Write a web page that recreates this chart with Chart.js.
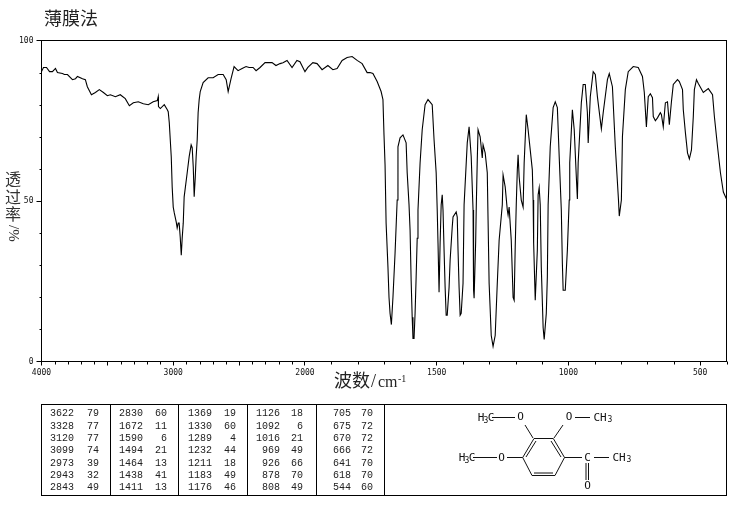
<!DOCTYPE html>
<html>
<head>
<meta charset="utf-8">
<style>
html,body{margin:0;padding:0;background:#fff;}
canvas{display:block;}
</style>
<script src="https://cdn.jsdelivr.net/npm/chart.js@4"></script>
</head>
<body>
<canvas id="irChart" width="737" height="510"></canvas>
<script>
// spectrum
var wavenumbers = [
4000,3985,3962,3939,3917,3894,3879,3841,3826,3803,3765,3742,3727,3689,3667,3652,3621,3591,3561,3530,
3500,3477,3439,3402,3364,3333,3303,3265,3227,3189,3152,3121,3114,3112,3098,3068,3045,3038,3030,3015,
3008,3000,2992,2977,2970,2962,2955,2947,2939,2932,2924,2917,2894,2879,2864,2856,2848,2841,2833,2826,
2818,2811,2803,2795,2773,2735,2697,2659,2621,2598,2583,2561,2538,2508,2477,2447,2424,2394,2371,2341,
2303,2250,2220,2189,2167,2136,2098,2061,2038,2000,
1989,1970,1954,1935,1913,1894,1878,1859,1840,1821,1802,1783,1764,1753,1742,1726,1711,1704,
1700,1696,1692,1685,1681,1677,1672,1666,1658,1650,1647,1639,1628,1616,1612,1605,1601,1597,1593,1590,
1586,1582,1578,1574,1571,1563,1555,1544,1533,1517,1510,1502,1498,1495,1491,1487,1483,1479,1476,1472,
1468,1464,1460,1453,1449,1441,1438,1426,1422,1419,1415,1411,1407,1400,1396,1384,1377,1369,1362,1360,
1358,1352,1350,1346,1343,1335,1327,1324,1316,1308,1305,1301,1293,1286,1278,1270,1263,1251,1248,1240,
1232,1229,1225,1217,1210,1206,1202,1198,1194,1191,1187,1179,1172,1168,1160,1153,1137,1134,1132,1126,
1118,1115,1111,1107,1103,1096,1092,1084,1080,1077,1069,1058,1050,1042,1035,1027,1023,1020,1012,1004,
997,995,985,978,970,966,963,951,944,936,928,925,917,906,898,890,875,868,852,845,
833,822,810,807,799,795,784,773,754,735,719,712,704,697,689,681,678,670,662,651,
647,640,632,624,617,609,602,586,579,567,564,556,548,541,533,526,522,514,507,488,
469,453,446,434,423,412,400
];
var transmittance = [
90.3,91.6,91.6,90.3,90.3,91.3,90,89.7,89.4,89.4,87.8,88.1,88.8,88.1,87.8,85.6,83.1,83.8,84.7,83.8,
82.8,83.1,82.5,83.1,81.9,79.7,80.6,80.9,80.3,80,80.9,81.3,82.5,79.4,78.8,80,78.4,77.8,74.4,63.8,
54.4,48.1,46.3,43.4,41.6,43.1,43.1,38.8,33.1,38.4,43.1,51.3,58.8,63.8,67.5,66.6,60.6,51.3,57.2,63.8,
69.1,77.5,81.6,84.1,86.9,88.4,88.4,89.4,89.4,87.8,84.1,88.1,91.9,90.6,91.3,91.9,91.6,91.6,90.6,91.6,
93.1,93.1,92.2,92.8,93.1,93.8,91.6,93.8,93.4,90.3,
91.6,93.1,92.8,90.9,92.2,90.9,91.3,93.8,94.7,95,93.8,92.8,90,90,89.7,87.2,84.1,81.6,
70.6,61.3,43.1,29.4,20,15,11.5,20,33.8,50.3,66.9,69.7,70.6,68.1,58.8,48.8,40.9,25.3,13.8,7.2,
7.2,15,26.3,38.4,47.2,61.9,72.2,80,81.6,80,69.1,58.8,47.2,36.9,21.6,36.9,48.8,51.9,47.2,34.7,
23.1,14.4,14.4,23.1,31.6,41.9,45,46.6,45,34.7,23.1,14.4,15,24.4,48.8,68.1,73.1,63.8,47.2,22.2,
19.7,37.5,47.2,62.8,72.2,70,63.4,67.5,65,58.8,44,24.4,8.1,4.7,8.1,24.4,37.8,48.8,58.1,54.4,
47.2,45.6,48.1,37.8,20,19.1,35.6,48.8,59.7,64.4,57.5,50.3,48.1,61.9,76.9,72.2,59.7,50.3,36.9,19.1,
34.7,51.9,54.1,48.8,29.4,10.6,6.9,15,26.3,48.8,66.9,79.1,80.9,79.1,63.8,47.2,30.6,22.2,22.2,34.7,
50.3,61.9,78.4,72.2,57.5,50.6,61.9,80.6,86.3,86.3,77.5,68.1,82.5,90.3,89.4,82.5,72.5,77.5,87.8,89.7,
85.6,66.9,50.3,45.3,50.3,70,84.7,90.3,91.9,91.6,88.8,83.8,73.1,82.5,83.4,82.2,76.3,75,75.9,77.5,
76.9,73.1,80.6,80.9,73.8,80.9,86.3,87.8,87.2,84.7,78.4,71.3,65,63.1,65.9,76.3,84.7,87.8,86.6,83.8,
85,83.1,76.3,66.9,58.8,52.8,50.6
];

var xLabelled = [4000,3000,2000,1500,1000,500];
var xMajor = [4000,3500,3000,2500,2000,1500,1000,500];
var xMinor = [3900,3800,3700,3600,3400,3300,3200,3100,2900,2800,2700,2600,2400,2300,2200,2100,
	1900,1800,1700,1600,1400,1300,1200,1100,900,800,700,600,400];
var yLabelled = [0,50,100];
var yMinor = [10,20,30,40,60,70,80,90];

// peak table under the chart, one list per column
var peakWn = [
	[3622,3328,3120,3099,2973,2943,2843],
	[2830,1672,1590,1494,1464,1438,1411],
	[1369,1330,1289,1232,1211,1183,1176],
	[1126,1092,1016,969,926,878,808],
	[705,675,670,666,641,618,544]
];
var peakT = [
	[79,77,77,74,39,32,49],
	[60,11,6,21,13,41,13],
	[19,60,4,44,18,49,46],
	[18,6,21,49,66,70,49],
	[70,72,72,72,70,70,60]
];

// the axis changes scale at 2000 cm-1
function axisPos(w)
{
	return w >= 2000 ? (4000 - w) / 2 : 1000 + (2000 - w);
}
function axisWn(p)
{
	return p <= 1000 ? 4000 - p * 2 : 2000 - (p - 1000);
}

var points = [];
for(let i=0;i<wavenumbers.length;i++)
{
	points.push({x: axisPos(wavenumbers[i]), y: transmittance[i]});
}

var cjkFont = '"Noto Sans CJK SC"';

function line(ctx,x1,y1,x2,y2)
{
	ctx.beginPath();
	ctx.moveTo(x1,y1);
	ctx.lineTo(x2,y2);
	ctx.stroke();
}

function drawTexts(ctx)
{
	ctx.fillStyle = "#222";
	ctx.textBaseline = "alphabetic";
	ctx.textAlign = "left";
	ctx.font = "18px " + cjkFont;
	ctx.fillText("薄膜法",44,25);

	// x title
	ctx.fillText("波数",334,387);
	ctx.font = '18px "Liberation Serif"';
	ctx.fillText("/",371,387);
	ctx.font = '16px "Liberation Serif"';
	ctx.fillText("cm",378,387);
	ctx.font = '10px "Liberation Serif"';
	ctx.fillText("-1",398,382);

	// y title
	ctx.fillStyle = "#333";
	ctx.font = "16px " + cjkFont;
	ctx.textAlign = "center";
	ctx.fillText("透",13,185);
	ctx.fillText("过",13,203);
	ctx.fillText("率",13,220);
	ctx.save();
	ctx.translate(13,225);
	ctx.rotate(Math.PI/2);
	ctx.font = '15px "Liberation Serif"';
	ctx.textAlign = "left";
	ctx.fillText("/%",0,4);
	ctx.restore();
}

function drawTable(ctx)
{
	var colX = [41.5,110.5,178.5,247.5,316.5,384.5,726.5];
	var wnRight = [74,143,212,280,351];
	var tRight = [99,167,236,303,373];
	var rowY = [413,426,438,450,463,475,487];
	ctx.strokeStyle = "#000";
	ctx.lineWidth = 1;
	ctx.strokeRect(41.5,404.5,685,91);
	for(let i=1;i<colX.length-1;i++)
	{
		line(ctx,colX[i],404.5,colX[i],495.5);
	}
	ctx.fillStyle = "#222";
	ctx.font = '10px "Liberation Mono"';
	ctx.textAlign = "right";
	ctx.textBaseline = "middle";
	for(let c=0;c<peakWn.length;c++)
	{
		for(let r=0;r<peakWn[c].length;r++)
		{
			ctx.fillText(peakWn[c][r],wnRight[c],rowY[r]);
			ctx.fillText(peakT[c][r],tRight[c],rowY[r]);
		}
	}
}

function drawMolecule(ctx)
{
	// bonds
	var bonds = [
		[522.7,457.5,534,438.5],[534,438.5,553.3,438.5],[553.3,438.5,564.5,457.5],
		[564.5,457.5,555,475.5],[555,475.5,532,475.5],[532,475.5,522.7,457.5],
		[526,457,536,441],[551,441,561,457],[534,473,553,473],
		[492,417.5,515,417.5],[525,425,533,438],[554,438,563,425],[575,417.5,590,417.5],
		[473,457.5,497,457.5],[507,457.5,522.7,457.5],[564.5,457.5,582,457.5],[594,457.5,609,457.5],
		[586,463,586,480],[588.5,463,588.5,480]
	];
	ctx.strokeStyle = "#111";
	ctx.lineWidth = 1;
	for(let i=0;i<bonds.length;i++)
	{
		line(ctx,bonds[i][0],bonds[i][1],bonds[i][2],bonds[i][3]);
	}
	// atoms
	var atoms = [
		["H",481,418],["C",491,418],["O",520.5,417],["O",569,417],["C",587.5,458],
		["O",501.5,458],["O",587.5,486],["H",462,458],["C",472,458]
	];
	ctx.fillStyle = "#111";
	ctx.font = '11px "DejaVu Sans Mono"';
	ctx.textAlign = "center";
	ctx.textBaseline = "middle";
	for(let i=0;i<atoms.length;i++)
	{
		ctx.fillText(atoms[i][0],atoms[i][1],atoms[i][2]);
	}
	ctx.fillText("CH",600,418);
	ctx.fillText("CH",619,458);
	ctx.font = '8px "DejaVu Sans Mono"';
	ctx.fillText("3",486,421);
	ctx.fillText("3",467,461);
	ctx.fillText("3",610,420);
	ctx.fillText("3",629,460);
}

var extras = {
	id: "extras",
	beforeDatasetsDraw(chart){
		var ctx = chart.ctx, a = chart.chartArea;
		ctx.save();
		ctx.strokeStyle = "#000";
		ctx.lineWidth = 1;
		ctx.strokeRect(a.left,a.top,a.right-a.left,a.bottom-a.top);
		for(let i=0;i<xMinor.length;i++)
		{
			let px = Math.round(chart.scales.x.getPixelForValue(axisPos(xMinor[i])))+0.5;
			line(ctx,px,a.bottom,px,a.bottom+3);
		}
		for(let i=0;i<yMinor.length;i++)
		{
			let py = Math.round(chart.scales.y.getPixelForValue(yMinor[i]))+0.5;
			line(ctx,a.left-2,py,a.left,py);
		}
		ctx.restore();
	},
	afterDraw(chart){
		var ctx = chart.ctx;
		ctx.save();
		drawTexts(ctx);
		drawTable(ctx);
		drawMolecule(ctx);
		ctx.restore();
	}
};

var mychart = new Chart(document.getElementById("irChart").getContext("2d"),
{
	type: "line",
	data: {
		datasets: [{
			data: points,
			borderColor: "#000",
			borderWidth: 1.1,
			pointRadius: 0,
			tension: 0,
			fill: false
		}]
	},
	options: {
		responsive: false,
		animation: false,
		devicePixelRatio: 1,
		layout: {padding: {top: 40.5, right: 10.5, left: 0, bottom: 0}},
		plugins: {legend: {display: false}, title: {display: false}, tooltip: {enabled: false}},
		scales: {
			x: {
				type: "linear",
				min: 0,
				max: 2600,
				afterBuildTicks: function(s){ s.ticks = xMajor.map(function(w){ return {value: axisPos(w)}; }); },
				afterFit: function(s){ s.height = 148.5; },
				border: {display: false},
				grid: {drawOnChartArea: false, tickLength: 4, tickColor: "#000", tickWidth: 1},
				ticks: {
					autoSkip: false,
					maxRotation: 0,
					padding: 3,
					color: "#111",
					font: {family: "DejaVu Sans Mono", size: 8},
					callback: function(v){
						let w = Math.round(axisWn(v));
						return xLabelled.indexOf(w) >= 0 ? String(w) : "";
					}
				}
			},
			y: {
				min: 0,
				max: 100,
				afterBuildTicks: function(s){ s.ticks = yLabelled.map(function(v){ return {value: v}; }); },
				afterFit: function(s){ s.width = 41.5; },
				border: {display: false},
				grid: {drawOnChartArea: false, tickLength: 5, tickColor: "#000", tickWidth: 1},
				ticks: {
					padding: 3,
					color: "#111",
					font: {family: "DejaVu Sans Mono", size: 8}
				}
			}
		}
	},
	plugins: [extras]
});
</script>
</body>
</html>
